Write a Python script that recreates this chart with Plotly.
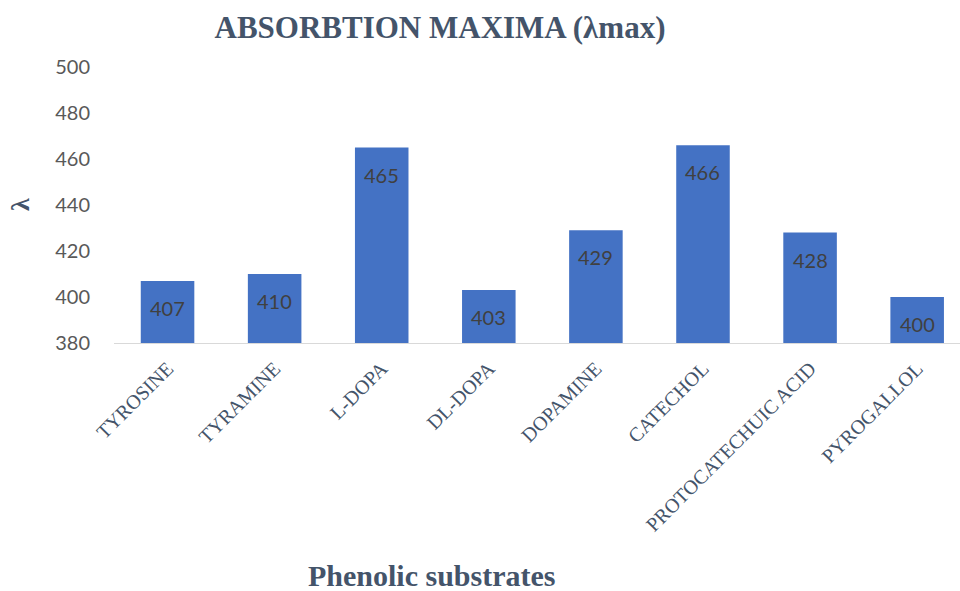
import plotly.graph_objects as go

categories = ["TYROSINE", "TYRAMINE", "L-DOPA", "DL-DOPA", "DOPAMINE",
              "CATECHOL", "PROTOCATECHUIC ACID", "PYROGALLOL"]
values = [407, 410, 465, 403, 429, 466, 428, 400]
y_ticks = [380, 400, 420, 440, 460, 480, 500]

L, T, B = 114, 67, 248
W, H = 960, 591
pw = W - L
ph = H - T - B

SERIF = "'Liberation Serif', 'Times New Roman', serif"
SANS = "Lato, 'Open Sans', sans-serif"

fig = go.Figure(go.Bar(
    x=categories, y=values, width=0.5,
    marker=dict(color="#4472C4", line=dict(width=0)),
))

annotations = [
    dict(x=c, y=v, xref="x", yref="y", text=str(v), showarrow=False,
         yshift=-27, xanchor="center", yanchor="middle",
         font=dict(family=SANS, size=20, color="#404040"))
    for c, v in zip(categories, values)
]
annotations += [
    dict(text="<b>Phenolic substrates</b>", xref="paper", yref="paper",
         x=(432 - L) / pw, y=(343 - 575) / ph, xanchor="center", yanchor="middle",
         showarrow=False, font=dict(family=SERIF, size=30, color="#44546A")),
    dict(text="<b>λ</b>", xref="paper", yref="paper",
         x=(20 - L) / pw, y=(343 - 205) / ph, xanchor="center", yanchor="middle",
         showarrow=False, textangle=-90, font=dict(family=SERIF, size=26, color="#44546A")),
]

fig.update_layout(
    width=W, height=H,
    margin=dict(l=L, r=0, t=T, b=B),
    plot_bgcolor="white", paper_bgcolor="white",
    showlegend=False,
    title=dict(text="<b>ABSORBTION MAXIMA (λmax)</b>", x=440 / W, xanchor="center",
               y=1 - 27 / H, yanchor="middle", yref="container", xref="container",
               font=dict(family=SERIF, size=31, color="#44546A")),
    xaxis=dict(range=[-0.5, 7.4], showgrid=False, showline=True, linecolor="#D9D9D9", linewidth=1,
               tickangle=-45, ticks="", zeroline=False, automargin=False, ticklabelstandoff=5,
               tickfont=dict(family=SERIF, size=20, color="#44546A")),
    yaxis=dict(range=[380, 500], tickvals=y_ticks, showgrid=False, showline=False, zeroline=False,
               ticks="outside", ticklen=8, tickcolor="rgba(0,0,0,0)", ticklabelstandoff=11,
               automargin=False,
               tickfont=dict(family=SANS, size=20, color="#595959")),
    annotations=annotations,
)

fig.write_html("out.html", config={"displayModeBar": False},
               post_script="document.body.style.margin='0';document.body.style.padding='0';")
